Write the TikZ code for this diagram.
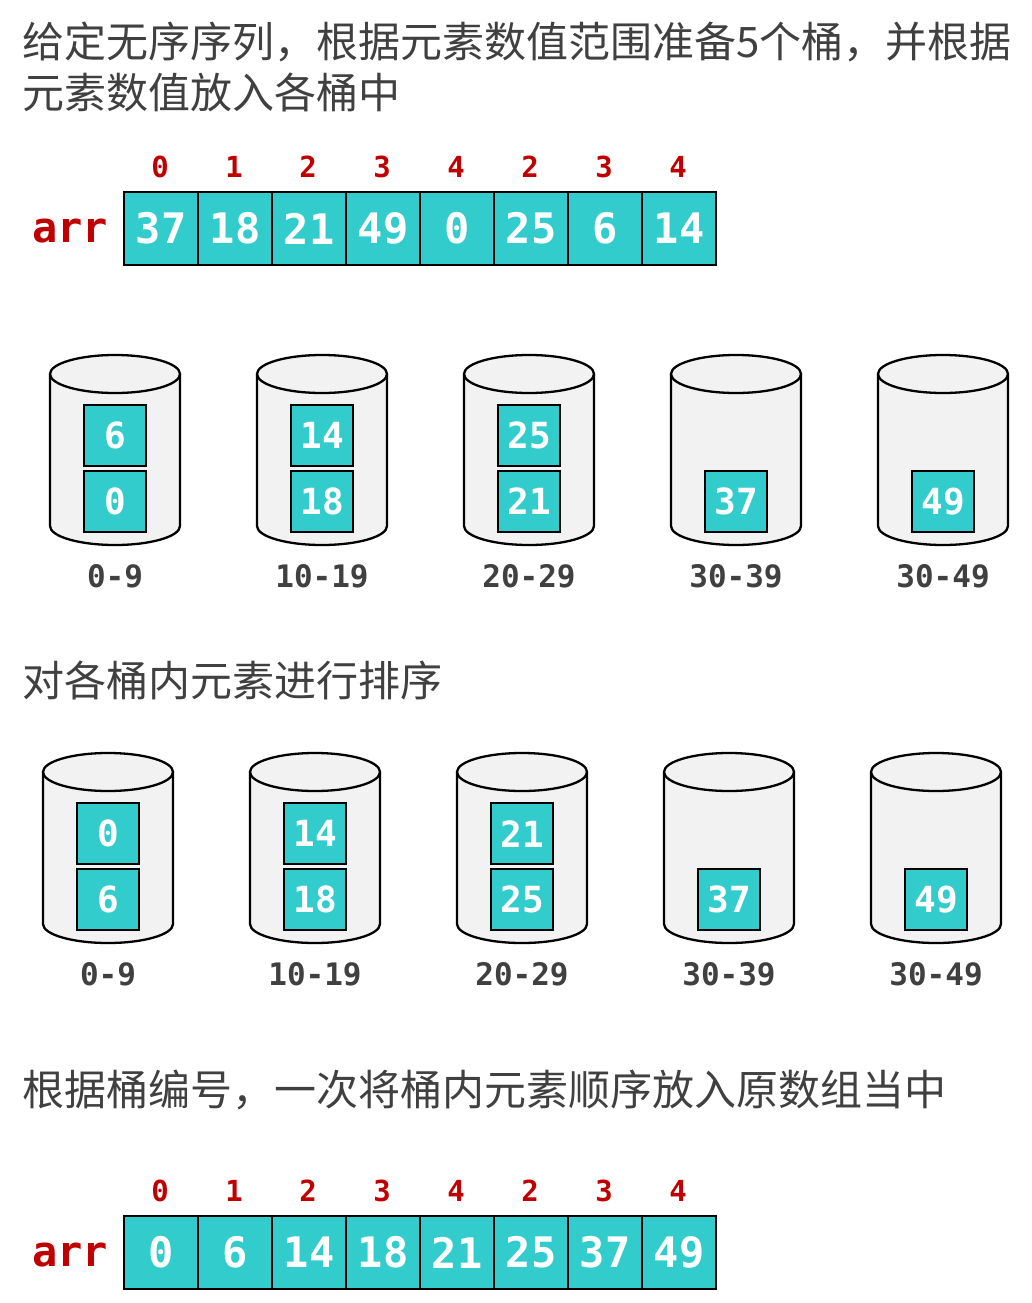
\documentclass[tikz,border=0pt]{standalone}
\usepackage{fontspec}
\setmainfont{DejaVu Sans}
\setmonofont{DejaVu Sans Mono}
\newfontfamily\cjkfont{Noto Sans CJK SC}
\usetikzlibrary{positioning}
\definecolor{cellteal}{HTML}{33CCCC}
\definecolor{idxred}{HTML}{C00000}
\definecolor{textgray}{HTML}{404040}
\definecolor{bucketgray}{HTML}{F2F2F2}
\begin{document}
\begin{tikzpicture}[x=1pt,y=-1pt,
  cell/.style={draw,line width=2.3pt,fill=cellteal,text=white,inner sep=0pt,
    minimum width=74pt,minimum height=73pt,font=\ttfamily\bfseries\fontsize{42}{42}\selectfont},
  box/.style={draw,line width=2.3pt,fill=cellteal,text=white,inner sep=0pt,
    minimum width=62pt,minimum height=61pt,font=\ttfamily\bfseries\fontsize{36}{36}\selectfont},
  idx/.style={text=idxred,inner sep=0pt,font=\ttfamily\bfseries\fontsize{29}{29}\selectfont},
  arrlabel/.style={text=idxred,inner sep=0pt,font=\ttfamily\bfseries\fontsize{42}{42}\selectfont},
  rangelabel/.style={text=textgray,inner sep=0pt,font=\ttfamily\bfseries\fontsize{31}{31}\selectfont},
  caption/.style={text=textgray,inner sep=0pt,anchor=west,align=left,font=\cjkfont\fontsize{42}{51}\selectfont},
  bucket/.style={draw=black,fill=bucketgray,line width=2.3pt}]
\useasboundingbox (0,0) rectangle (1032,1303);

% step 1
\node[caption] (cap1) at (22,67) {给定无序序列，根据元素数值范围准备5个桶，并根据\\元素数值放入各桶中};
\node[arrlabel] (arr1) at (70,231) {arr};
\foreach \v [count=\i from 0] in {37,18,21,49,0,25,6,14}
  \node[cell] (a1-\i) at ({161+74*\i},228.5) {\v};
\foreach \v [count=\i from 0] in {0,1,2,3,4,2,3,4}
  \node[idx] (i1-\i) at ({160+74*\i},167) {\v};

\foreach \lo/\rng [count=\k from 0] in {0/0-9,18/10-19,21/20-29,37/30-39,49/30-49} {
  \pgfmathsetmacro\cx{115+207*\k}
  \coordinate (bk1-\k) at (\cx,374);
  \filldraw[bucket] ({\cx-65},374) -- ({\cx-65},526)
    arc[start angle=180,end angle=360,x radius=65pt,y radius=19pt] -- ({\cx+65},374);
  \filldraw[bucket] (bk1-\k) ellipse[x radius=65pt,y radius=19pt];
  \node[box] (lo1-\k) at (\cx,501.5) {\lo};
  \node[rangelabel] (rg1-\k) at (\cx,576) {\rng};
}
\foreach \up [count=\k from 0] in {6,14,25}
  \node[box,above=2.5pt of lo1-\k] (up1-\k) {\up};

% step 2
\node[caption] (cap2) at (22,680) {对各桶内元素进行排序};
\foreach \lo/\rng [count=\k from 0] in {6/0-9,18/10-19,25/20-29,37/30-39,49/30-49} {
  \pgfmathsetmacro\cx{108+207*\k}
  \coordinate (bk2-\k) at (\cx,772);
  \filldraw[bucket] ({\cx-65},772) -- ({\cx-65},924)
    arc[start angle=180,end angle=360,x radius=65pt,y radius=19pt] -- ({\cx+65},772);
  \filldraw[bucket] (bk2-\k) ellipse[x radius=65pt,y radius=19pt];
  \node[box] (lo2-\k) at (\cx,899.5) {\lo};
  \node[rangelabel] (rg2-\k) at (\cx,974) {\rng};
}
\foreach \up [count=\k from 0] in {0,14,21}
  \node[box,above=2.5pt of lo2-\k] (up2-\k) {\up};

% step 3
\node[caption] (cap3) at (22,1090) {根据桶编号，一次将桶内元素顺序放入原数组当中};
\node[arrlabel] (arr2) at (70,1255) {arr};
\foreach \v [count=\i from 0] in {0,6,14,18,21,25,37,49}
  \node[cell] (a2-\i) at ({161+74*\i},1252.5) {\v};
\foreach \v [count=\i from 0] in {0,1,2,3,4,2,3,4}
  \node[idx] (i2-\i) at ({160+74*\i},1191) {\v};
\end{tikzpicture}
\end{document}
